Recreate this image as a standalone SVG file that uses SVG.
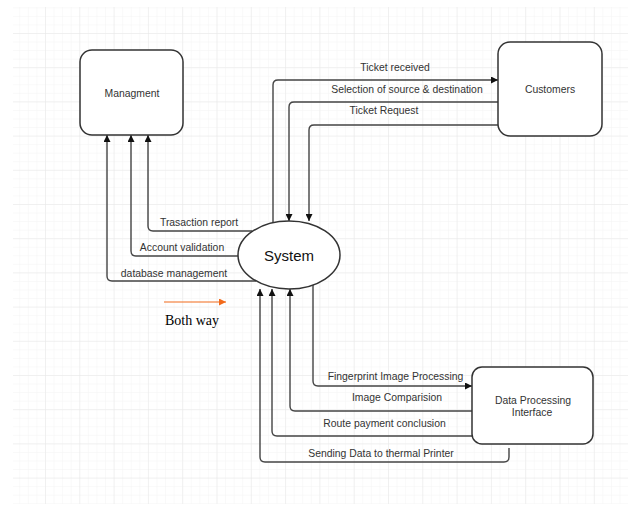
<svg xmlns="http://www.w3.org/2000/svg" width="628" height="506" viewBox="0 0 628 506">
  <defs>
    <pattern id="minor" patternUnits="userSpaceOnUse" width="8.575" height="8.55" x="10.7" y="-1.2">
      <path d="M0,0 V8.55 M0,0 H8.575" fill="none" stroke="#f3f3f3" stroke-width="1"/>
    </pattern>
    <pattern id="major" patternUnits="userSpaceOnUse" width="34.3" height="34.2" x="10.7" y="-1.2">
      <path d="M0,0 V34.2 M0,0 H34.3" fill="none" stroke="#e8e8e8" stroke-width="1"/>
    </pattern>
    <marker id="arr" viewBox="0 0 10 10" refX="10" refY="5" markerWidth="7" markerHeight="7" markerUnits="userSpaceOnUse" orient="auto">
      <path d="M0,0 L10,5 L0,10 Z" fill="#111"/>
    </marker>
    <marker id="arrO" viewBox="0 0 10 10" refX="10" refY="5" markerWidth="7" markerHeight="7" markerUnits="userSpaceOnUse" orient="auto">
      <path d="M0,0 L10,5 L0,10 Z" fill="#f26a1b"/>
    </marker>
  </defs>
  <style>
    .box { fill: #fff; stroke: #333; stroke-width: 1.5; }
    .edge { fill: none; stroke: #444; stroke-width: 1.4; marker-end: url(#arr); }
    .lbl { font-family: "Liberation Sans", Arial, sans-serif; font-size: 10.4px; fill: #333; text-anchor: middle; }
    .sys { font-family: "Liberation Sans", Arial, sans-serif; font-size: 15px; fill: #111; text-anchor: middle; }
    .note { font-family: "Liberation Serif", "Times New Roman", serif; font-size: 14px; fill: #000; text-anchor: middle; }
  </style>
  <rect width="628" height="506" fill="#fff"/>
  <rect x="13" y="7" width="615" height="497" fill="url(#minor)"/>
  <rect x="13" y="7" width="615" height="497" fill="url(#major)"/>

  <g id="connectors">
    <path class="edge" d="M252,231 H153 Q148,231 148,226 V135"/>
    <path class="edge" d="M238,256 H136 Q131,256 131,251 V135"/>
    <path class="edge" d="M256,281 H112 Q107,281 107,276 V135"/>
    <path class="edge" d="M273,223 V85 Q273,80 278,80 H498"/>
    <path class="edge" d="M498,102 H294 Q289,102 289,107 V221"/>
    <path class="edge" d="M498,125 H314 Q309,125 309,130 V221"/>
    <path class="edge" d="M313,285 V381 Q313,386 318,386 H472"/>
    <path class="edge" d="M472,411 H295 Q290,411 290,406 V289"/>
    <path class="edge" d="M472,436 H277 Q272,436 272,431 V289"/>
    <path class="edge" d="M509,448 V457 Q509,462 504,462 H265 Q260,462 260,457 V289"/>
    <text class="lbl" x="199" y="226">Trasaction report</text>
    <text class="lbl" x="182" y="250.5">Account validation</text>
    <text class="lbl" x="174" y="276.5">database management</text>
    <text class="lbl" x="395" y="70.5">Ticket received</text>
    <text class="lbl" x="407" y="93">Selection of source &amp; destination</text>
    <text class="lbl" x="384" y="114">Ticket Request</text>
    <text class="lbl" x="395.5" y="380">Fingerprint Image Processing</text>
    <text class="lbl" x="397" y="401">Image Comparision</text>
    <text class="lbl" x="384.5" y="427">Route payment conclusion</text>
    <text class="lbl" x="381" y="457">Sending Data to thermal Printer</text>
  </g>

  <g id="managment">
    <rect class="box" x="80" y="50" width="103" height="85" rx="12"/>
    <text class="lbl" x="132" y="96.5">Managment</text>
  </g>
  <g id="customers">
    <rect class="box" x="498" y="42" width="104" height="94" rx="12"/>
    <text class="lbl" x="550" y="92.5">Customers</text>
  </g>
  <g id="system">
    <ellipse class="box" cx="289" cy="255" rx="51" ry="34"/>
    <text class="sys" x="289" y="261">System</text>
  </g>
  <g id="data-processing">
    <rect class="box" x="472" y="367" width="121" height="77" rx="10"/>
    <text class="lbl" x="533" y="403.5">Data Processing</text>
    <text class="lbl" x="532" y="416">Interface</text>
  </g>
  <g id="legend">
    <path d="M164,302 H226" fill="none" stroke="#f26a1b" stroke-width="1.2" marker-end="url(#arrO)"/>
    <text class="note" x="192" y="325">Both way</text>
  </g>
</svg>
